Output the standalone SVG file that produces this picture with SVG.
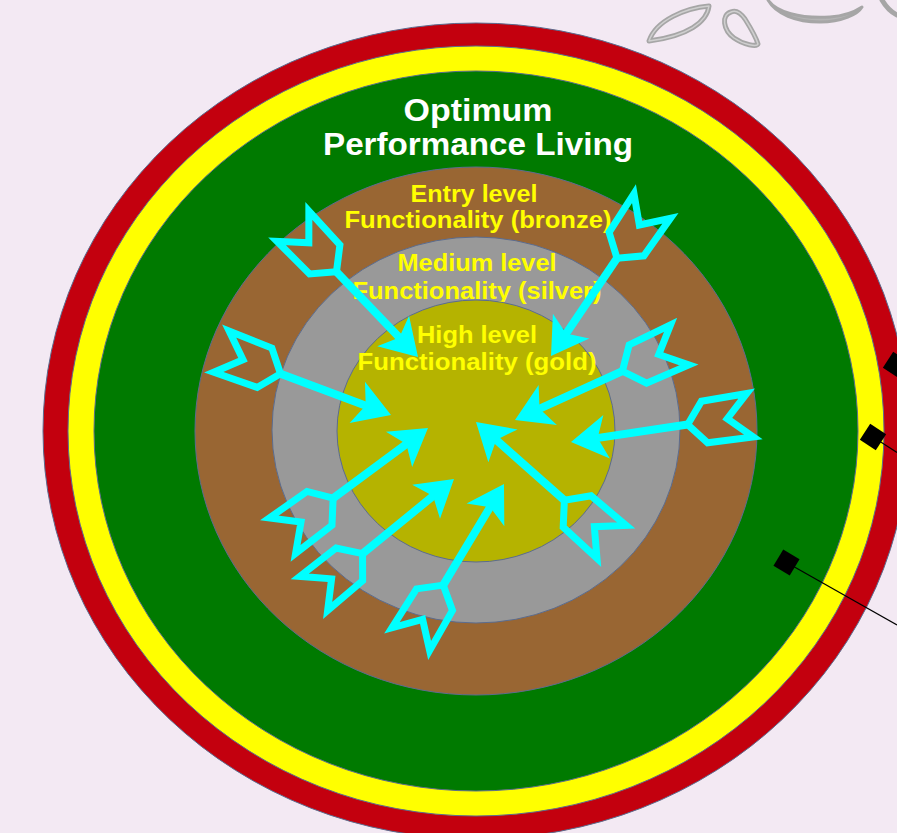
<svg xmlns="http://www.w3.org/2000/svg" width="897" height="833" viewBox="0 0 897 833">
<style>
.ring{stroke:#5b6c8f;stroke-width:1}
.wt{font-family:"Liberation Sans",Arial,sans-serif;font-weight:bold;fill:#ffffff;font-size:31px;text-anchor:middle}
.yt{font-family:"Liberation Sans",Arial,sans-serif;font-weight:bold;fill:#ffff00;font-size:24px;text-anchor:middle}
.orn{fill:none;stroke:#a6a6a6;stroke-width:5;stroke-linejoin:round;stroke-linecap:round}
.orn2{fill:none;stroke:#cfcfcf;stroke-width:1.5;stroke-linejoin:round;stroke-linecap:round}
.mk{fill:#000000}
.ml{stroke:#000000;stroke-width:1.2}
</style>
<defs>
<g id="arrow">
<line x1="-118" y1="0" x2="-26" y2="0" stroke="#00ffff" stroke-width="8"/>
<polygon points="0,0 -36,-22 -27,0 -36,22" fill="#00ffff"/>
<path d="M-118,0 L-135,-21 L-181,-22 L-158,0 L-181,22 L-135,21 Z" fill="none" stroke="#00ffff" stroke-width="7" stroke-linejoin="miter" stroke-miterlimit="6"/>
</g>
</defs>
<rect x="0" y="0" width="897" height="833" fill="#f3e9f3"/>
<g id="ornament">
<path class="orn" d="M649,41 C656,20 686,8 709,6 C707,22 688,36 649,41 Z"/>
<path class="orn2" d="M649,41 C656,20 686,8 709,6 C707,22 688,36 649,41 Z"/>
<path class="orn" d="M731,12 C721,15 723,30 734,38 C744,45 757,47 758,44 C756,37 750,27 745,19 C740,12 735,10 731,12 Z"/>
<path class="orn2" d="M731,12 C721,15 723,30 734,38 C744,45 757,47 758,44 C756,37 750,27 745,19 C740,12 735,10 731,12 Z"/>
<path d="M768,0 C776,12 800,19 830,17 C845,16 856,11 862,7 C858,14 842,22 820,22 C796,22 776,14 768,0 Z" fill="#b4b4b4" stroke="#a6a6a6" stroke-width="3" stroke-linejoin="round"/>
<path class="orn" d="M882,0 C886,7 891,12 897,15"/>
</g>
<g id="ring-red"><ellipse class="ring" cx="476" cy="431" rx="433" ry="408" fill="#c3000e"/></g>
<g id="ring-yellow"><ellipse class="ring" cx="476" cy="431" rx="408" ry="385" fill="#ffff00"/></g>
<g id="ring-green">
<ellipse class="ring" cx="476" cy="431" rx="382" ry="360" fill="#007a00"/>
<text class="wt" x="478" y="121" textLength="149" lengthAdjust="spacingAndGlyphs">Optimum</text>
<text class="wt" x="478" y="155" textLength="310" lengthAdjust="spacingAndGlyphs">Performance Living</text>
</g>
<g id="ring-bronze">
<ellipse class="ring" cx="476" cy="431" rx="281" ry="264" fill="#996633"/>
<text class="yt" x="474" y="202" textLength="127" lengthAdjust="spacingAndGlyphs">Entry level</text>
<text class="yt" x="478" y="228" textLength="267" lengthAdjust="spacingAndGlyphs">Functionality (bronze)</text>
</g>
<g id="ring-silver">
<ellipse class="ring" cx="476" cy="430" rx="204" ry="193" fill="#999999"/>
<text class="yt" x="477" y="271" textLength="159" lengthAdjust="spacingAndGlyphs">Medium level</text>
<text class="yt" x="477" y="299" textLength="249" lengthAdjust="spacingAndGlyphs">Functionality (silver)</text>
</g>
<g id="ring-gold">
<ellipse class="ring" cx="476" cy="431" rx="139" ry="131" fill="#b5b300"/>
<text class="yt" x="477" y="343" textLength="120" lengthAdjust="spacingAndGlyphs">High level</text>
<text class="yt" x="477" y="370" textLength="239" lengthAdjust="spacingAndGlyphs">Functionality (gold)</text>
</g>
<g id="connectors">
<use href="#arrow" transform="translate(418,357) rotate(46.3)"/>
<use href="#arrow" transform="translate(551,356) rotate(124)"/>
<use href="#arrow" transform="translate(391,415) rotate(20.5)"/>
<use href="#arrow" transform="translate(515,420) rotate(155.5)"/>
<use href="#arrow" transform="translate(571,442) rotate(171.5)"/>
<use href="#arrow" transform="translate(476,422) rotate(221.5)"/>
<use href="#arrow" transform="translate(428,428) rotate(-36.5)"/>
<use href="#arrow" transform="translate(454,479) rotate(-39.2)"/>
<use href="#arrow" transform="translate(504,484) rotate(-59)"/>
<line class="ml" x1="896" y1="365" x2="912" y2="375"/>
<line class="ml" x1="873" y1="437" x2="897" y2="452.5"/>
<line class="ml" x1="786.5" y1="562.5" x2="897" y2="625"/>
</g>
<g id="marker-1"><rect class="mk" x="-9.5" y="-9.5" width="19" height="19" transform="translate(896,365) rotate(33)"/></g>
<g id="marker-2"><rect class="mk" x="-9.5" y="-9.5" width="19" height="19" transform="translate(873,437) rotate(33)"/></g>
<g id="marker-3"><rect class="mk" x="-9.5" y="-9.5" width="19" height="19" transform="translate(786.5,562.5) rotate(31)"/></g>
</svg>
